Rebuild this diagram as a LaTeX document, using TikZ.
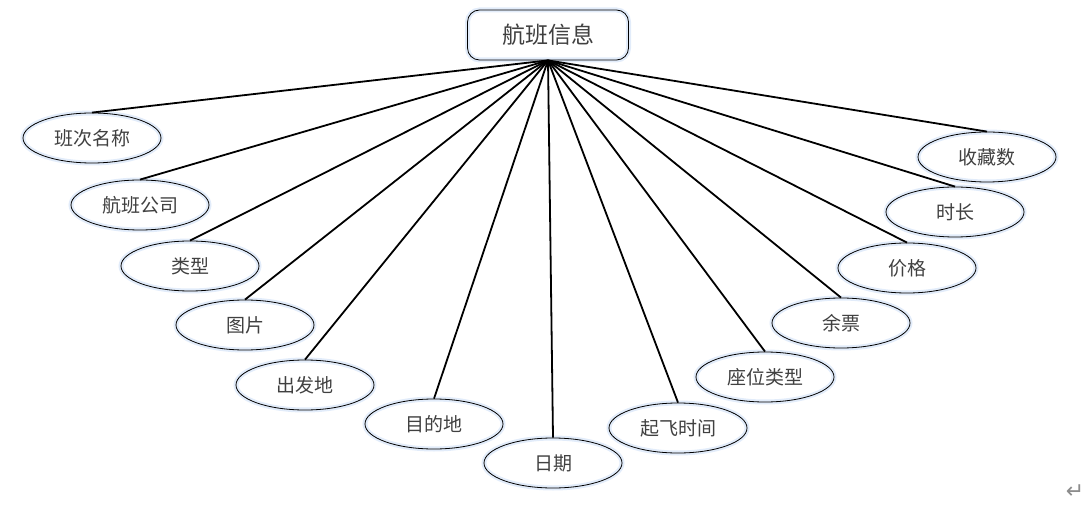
\documentclass[tikz,border=0pt]{standalone}
\usepackage{fontspec}
\setmainfont{Noto Sans CJK SC}
\newfontfamily\symfont{DejaVu Sans}
\usepackage{tikz}
\usetikzlibrary{shapes.geometric}

\definecolor{glow}{RGB}{226,236,250}

\tikzset{
  attr/.style={ellipse, draw, line width=0.8pt, minimum width=138pt, minimum height=50pt,
    inner sep=0pt, font=\fontsize{19}{19}\selectfont, text=black!75,
    preaction={draw=glow, line width=5pt}},
  entity/.style={rectangle, rounded corners=12pt, draw, line width=0.8pt, minimum width=161pt,
    minimum height=50pt, font=\fontsize{23}{23}\selectfont, text=black!75,
    preaction={draw=glow, line width=5pt}},
  link/.style={line width=1.8pt}
}

\begin{document}
\begin{tikzpicture}[x=1pt,y=-1pt]

% page size
\useasboundingbox (0,0) rectangle (1083,526);

% Entity
\node[entity] (flight) at (548,35) {航班信息};

% Attributes (left side)
\node[attr] (name) at (92,138) {班次名称};
\node[attr] (company) at (140,205) {航班公司};
\node[attr] (type) at (190,266) {类型};
\node[attr] (photo) at (245,325) {图片};
\node[attr] (from) at (305,385) {出发地};
\node[attr] (dest) at (434,424) {目的地};
\node[attr] (date) at (553,463) {日期};

% Attributes (right side)
\node[attr] (takeoff) at (678,428) {起飞时间};
\node[attr] (seat) at (765,377) {座位类型};
\node[attr] (left) at (841,323) {余票};
\node[attr] (price) at (907,268) {价格};
\node[attr] (hours) at (955,212) {时长};
\node[attr] (stars) at (987,157) {收藏数};

% Links
\foreach \a in {name,company,type,photo,from,dest,date,takeoff,seat,left,price,hours,stars}
  \draw[link] (flight.south) -- (\a.north);

% paragraph mark
\node[text=black!45, font=\symfont\fontsize{22}{22}\selectfont] (mark) at (1075,492) {↵};

\end{tikzpicture}
\end{document}
